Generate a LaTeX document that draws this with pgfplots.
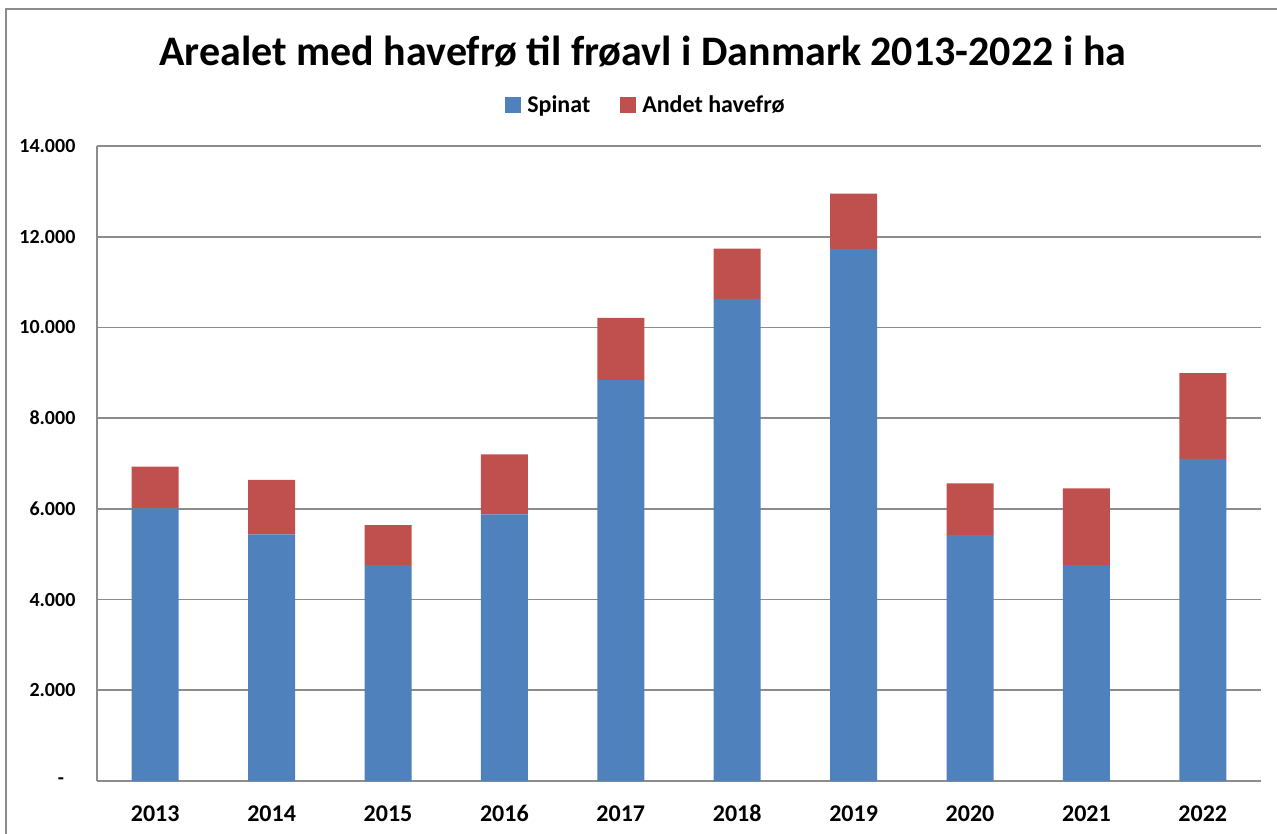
\documentclass[border=0pt]{standalone}
\usepackage{pgfplots}
\pgfplotsset{compat=1.18}
\usepackage{fontspec}
\setmainfont{Carlito}
\definecolor{spinat}{HTML}{4F81BD}
\definecolor{andet}{HTML}{C0504D}
\definecolor{gridgray}{HTML}{8C8C8C}

\begin{document}
\begin{tikzpicture}
% 1px = 0.75pt, origin at top-left corner
\path[use as bounding box] (0pt,0pt) rectangle (957.75pt,-625.5pt);
\begin{scope}
\clip (0pt,0pt) rectangle (957.75pt,-625.5pt);
\draw[gridgray,line width=1.2pt] (4.5pt,-700pt) -- (4.5pt,-6.75pt) -- (1000pt,-6.75pt);
\end{scope}
\node[font=\fontsize{31.5}{36}\selectfont\bfseries, anchor=base] at (482.25pt,-49.5pt) {Arealet med havefrø til frøavl i Danmark 2013-2022 i ha};
\begin{axis}[
    at={(72.75pt,-585.75pt)}, anchor=south west,
    scale only axis,
    width=873pt, height=476.25pt,
    ybar stacked,
    bar width=35.25pt,
    xmin=-0.5, xmax=9.5,
    ymin=0, ymax=14000,
    xtick={0,...,9},
    xticklabels={2013,2014,2015,2016,2017,2018,2019,2020,2021,2022},
    ytick={0,2000,4000,6000,8000,10000,12000,14000},
    yticklabels={-\hspace*{8.5pt},2.000,4.000,6.000,8.000,10.000,12.000,14.000},
    scaled y ticks=false,
    axis x line*=bottom,
    axis y line*=left,
    axis line style={gridgray,line width=1.2pt,-},
    major tick length=0pt,
    ymajorgrids,
    grid style={gridgray,line width=1.2pt},
    yticklabel style={font=\fontsize{15}{17}\selectfont\bfseries, inner sep=0pt, xshift=-16pt},
    xticklabel style={font=\fontsize{18}{20}\selectfont\bfseries, inner sep=0pt,
        text height=12.5pt, text depth=0pt, yshift=-18pt},
    legend style={at={(0.4716,1.0646)}, anchor=center, draw=none, fill=none,
        font=\fontsize{18}{20}\selectfont\bfseries, legend columns=2,
        /tikz/every odd column/.style={column sep=3pt},
        /tikz/every even column/.style={column sep=20pt}},
    legend image code/.code={\fill[#1] (0pt,-6pt) rectangle (12pt,6pt);},
]
\addplot[fill=spinat, draw=none] coordinates {
    (0,6010) (1,5440) (2,4760) (3,5880) (4,8840) (5,10630) (6,11730) (7,5420) (8,4760) (9,7100)
};
\addlegendentry{Spinat}
\addplot[fill=andet, draw=none] coordinates {
    (0,920) (1,1200) (2,880) (3,1320) (4,1370) (5,1110) (6,1220) (7,1140) (8,1690) (9,1890)
};
\addlegendentry{Andet havefrø}
\end{axis}
\end{tikzpicture}
\end{document}
